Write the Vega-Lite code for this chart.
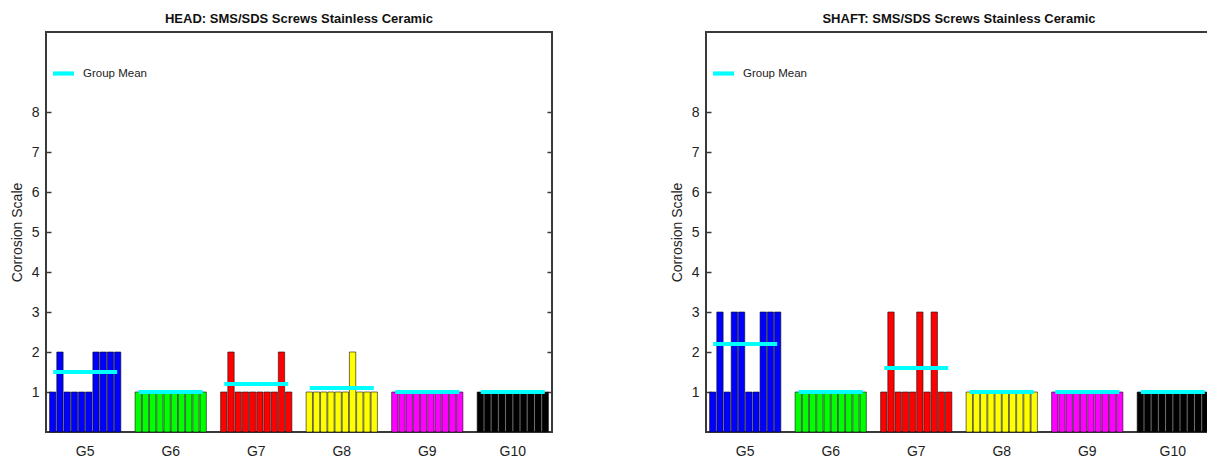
{
  "$schema": "https://vega.github.io/schema/vega-lite/v6.json",
  "background": "white",
  "padding": {"left": 9, "top": 12, "right": 0, "bottom": 0},
  "autosize": {"type": "pad"},
  "config": {
    "font": "Liberation Sans",
    "view": {"stroke": "#3a3a3a", "strokeWidth": 2},
    "axis": {"grid": false, "labelFont": "Liberation Sans", "titleFont": "Liberation Sans", "labelColor": "#222", "titleColor": "#222", "labelFontSize": 14, "titleFontSize": 14, "titleFontWeight": "normal", "domain": false, "tickColor": "#3a3a3a", "tickWidth": 1.5},
    "title": {"font": "Liberation Sans", "fontSize": 13, "fontWeight": "bold", "color": "#111", "offset": 6, "frame": "group", "anchor": "middle"},
    "legend": {"labelFont": "Liberation Sans", "labelFontSize": 11.5, "labelColor": "#222"}
  },
  "spacing": 115,
  "datasets": {
    "screws": [
      {"panel": "HEAD", "group": "G5", "idx": 1, "value": 1},
      {"panel": "HEAD", "group": "G5", "idx": 2, "value": 2},
      {"panel": "HEAD", "group": "G5", "idx": 3, "value": 1},
      {"panel": "HEAD", "group": "G5", "idx": 4, "value": 1},
      {"panel": "HEAD", "group": "G5", "idx": 5, "value": 1},
      {"panel": "HEAD", "group": "G5", "idx": 6, "value": 1},
      {"panel": "HEAD", "group": "G5", "idx": 7, "value": 2},
      {"panel": "HEAD", "group": "G5", "idx": 8, "value": 2},
      {"panel": "HEAD", "group": "G5", "idx": 9, "value": 2},
      {"panel": "HEAD", "group": "G5", "idx": 10, "value": 2},
      {"panel": "HEAD", "group": "G6", "idx": 1, "value": 1},
      {"panel": "HEAD", "group": "G6", "idx": 2, "value": 1},
      {"panel": "HEAD", "group": "G6", "idx": 3, "value": 1},
      {"panel": "HEAD", "group": "G6", "idx": 4, "value": 1},
      {"panel": "HEAD", "group": "G6", "idx": 5, "value": 1},
      {"panel": "HEAD", "group": "G6", "idx": 6, "value": 1},
      {"panel": "HEAD", "group": "G6", "idx": 7, "value": 1},
      {"panel": "HEAD", "group": "G6", "idx": 8, "value": 1},
      {"panel": "HEAD", "group": "G6", "idx": 9, "value": 1},
      {"panel": "HEAD", "group": "G6", "idx": 10, "value": 1},
      {"panel": "HEAD", "group": "G7", "idx": 1, "value": 1},
      {"panel": "HEAD", "group": "G7", "idx": 2, "value": 2},
      {"panel": "HEAD", "group": "G7", "idx": 3, "value": 1},
      {"panel": "HEAD", "group": "G7", "idx": 4, "value": 1},
      {"panel": "HEAD", "group": "G7", "idx": 5, "value": 1},
      {"panel": "HEAD", "group": "G7", "idx": 6, "value": 1},
      {"panel": "HEAD", "group": "G7", "idx": 7, "value": 1},
      {"panel": "HEAD", "group": "G7", "idx": 8, "value": 1},
      {"panel": "HEAD", "group": "G7", "idx": 9, "value": 2},
      {"panel": "HEAD", "group": "G7", "idx": 10, "value": 1},
      {"panel": "HEAD", "group": "G8", "idx": 1, "value": 1},
      {"panel": "HEAD", "group": "G8", "idx": 2, "value": 1},
      {"panel": "HEAD", "group": "G8", "idx": 3, "value": 1},
      {"panel": "HEAD", "group": "G8", "idx": 4, "value": 1},
      {"panel": "HEAD", "group": "G8", "idx": 5, "value": 1},
      {"panel": "HEAD", "group": "G8", "idx": 6, "value": 1},
      {"panel": "HEAD", "group": "G8", "idx": 7, "value": 2},
      {"panel": "HEAD", "group": "G8", "idx": 8, "value": 1},
      {"panel": "HEAD", "group": "G8", "idx": 9, "value": 1},
      {"panel": "HEAD", "group": "G8", "idx": 10, "value": 1},
      {"panel": "HEAD", "group": "G9", "idx": 1, "value": 1},
      {"panel": "HEAD", "group": "G9", "idx": 2, "value": 1},
      {"panel": "HEAD", "group": "G9", "idx": 3, "value": 1},
      {"panel": "HEAD", "group": "G9", "idx": 4, "value": 1},
      {"panel": "HEAD", "group": "G9", "idx": 5, "value": 1},
      {"panel": "HEAD", "group": "G9", "idx": 6, "value": 1},
      {"panel": "HEAD", "group": "G9", "idx": 7, "value": 1},
      {"panel": "HEAD", "group": "G9", "idx": 8, "value": 1},
      {"panel": "HEAD", "group": "G9", "idx": 9, "value": 1},
      {"panel": "HEAD", "group": "G9", "idx": 10, "value": 1},
      {"panel": "HEAD", "group": "G10", "idx": 1, "value": 1},
      {"panel": "HEAD", "group": "G10", "idx": 2, "value": 1},
      {"panel": "HEAD", "group": "G10", "idx": 3, "value": 1},
      {"panel": "HEAD", "group": "G10", "idx": 4, "value": 1},
      {"panel": "HEAD", "group": "G10", "idx": 5, "value": 1},
      {"panel": "HEAD", "group": "G10", "idx": 6, "value": 1},
      {"panel": "HEAD", "group": "G10", "idx": 7, "value": 1},
      {"panel": "HEAD", "group": "G10", "idx": 8, "value": 1},
      {"panel": "HEAD", "group": "G10", "idx": 9, "value": 1},
      {"panel": "HEAD", "group": "G10", "idx": 10, "value": 1},
      {"panel": "SHAFT", "group": "G5", "idx": 1, "value": 1},
      {"panel": "SHAFT", "group": "G5", "idx": 2, "value": 3},
      {"panel": "SHAFT", "group": "G5", "idx": 3, "value": 1},
      {"panel": "SHAFT", "group": "G5", "idx": 4, "value": 3},
      {"panel": "SHAFT", "group": "G5", "idx": 5, "value": 3},
      {"panel": "SHAFT", "group": "G5", "idx": 6, "value": 1},
      {"panel": "SHAFT", "group": "G5", "idx": 7, "value": 1},
      {"panel": "SHAFT", "group": "G5", "idx": 8, "value": 3},
      {"panel": "SHAFT", "group": "G5", "idx": 9, "value": 3},
      {"panel": "SHAFT", "group": "G5", "idx": 10, "value": 3},
      {"panel": "SHAFT", "group": "G6", "idx": 1, "value": 1},
      {"panel": "SHAFT", "group": "G6", "idx": 2, "value": 1},
      {"panel": "SHAFT", "group": "G6", "idx": 3, "value": 1},
      {"panel": "SHAFT", "group": "G6", "idx": 4, "value": 1},
      {"panel": "SHAFT", "group": "G6", "idx": 5, "value": 1},
      {"panel": "SHAFT", "group": "G6", "idx": 6, "value": 1},
      {"panel": "SHAFT", "group": "G6", "idx": 7, "value": 1},
      {"panel": "SHAFT", "group": "G6", "idx": 8, "value": 1},
      {"panel": "SHAFT", "group": "G6", "idx": 9, "value": 1},
      {"panel": "SHAFT", "group": "G6", "idx": 10, "value": 1},
      {"panel": "SHAFT", "group": "G7", "idx": 1, "value": 1},
      {"panel": "SHAFT", "group": "G7", "idx": 2, "value": 3},
      {"panel": "SHAFT", "group": "G7", "idx": 3, "value": 1},
      {"panel": "SHAFT", "group": "G7", "idx": 4, "value": 1},
      {"panel": "SHAFT", "group": "G7", "idx": 5, "value": 1},
      {"panel": "SHAFT", "group": "G7", "idx": 6, "value": 3},
      {"panel": "SHAFT", "group": "G7", "idx": 7, "value": 1},
      {"panel": "SHAFT", "group": "G7", "idx": 8, "value": 3},
      {"panel": "SHAFT", "group": "G7", "idx": 9, "value": 1},
      {"panel": "SHAFT", "group": "G7", "idx": 10, "value": 1},
      {"panel": "SHAFT", "group": "G8", "idx": 1, "value": 1},
      {"panel": "SHAFT", "group": "G8", "idx": 2, "value": 1},
      {"panel": "SHAFT", "group": "G8", "idx": 3, "value": 1},
      {"panel": "SHAFT", "group": "G8", "idx": 4, "value": 1},
      {"panel": "SHAFT", "group": "G8", "idx": 5, "value": 1},
      {"panel": "SHAFT", "group": "G8", "idx": 6, "value": 1},
      {"panel": "SHAFT", "group": "G8", "idx": 7, "value": 1},
      {"panel": "SHAFT", "group": "G8", "idx": 8, "value": 1},
      {"panel": "SHAFT", "group": "G8", "idx": 9, "value": 1},
      {"panel": "SHAFT", "group": "G8", "idx": 10, "value": 1},
      {"panel": "SHAFT", "group": "G9", "idx": 1, "value": 1},
      {"panel": "SHAFT", "group": "G9", "idx": 2, "value": 1},
      {"panel": "SHAFT", "group": "G9", "idx": 3, "value": 1},
      {"panel": "SHAFT", "group": "G9", "idx": 4, "value": 1},
      {"panel": "SHAFT", "group": "G9", "idx": 5, "value": 1},
      {"panel": "SHAFT", "group": "G9", "idx": 6, "value": 1},
      {"panel": "SHAFT", "group": "G9", "idx": 7, "value": 1},
      {"panel": "SHAFT", "group": "G9", "idx": 8, "value": 1},
      {"panel": "SHAFT", "group": "G9", "idx": 9, "value": 1},
      {"panel": "SHAFT", "group": "G9", "idx": 10, "value": 1},
      {"panel": "SHAFT", "group": "G10", "idx": 1, "value": 1},
      {"panel": "SHAFT", "group": "G10", "idx": 2, "value": 1},
      {"panel": "SHAFT", "group": "G10", "idx": 3, "value": 1},
      {"panel": "SHAFT", "group": "G10", "idx": 4, "value": 1},
      {"panel": "SHAFT", "group": "G10", "idx": 5, "value": 1},
      {"panel": "SHAFT", "group": "G10", "idx": 6, "value": 1},
      {"panel": "SHAFT", "group": "G10", "idx": 7, "value": 1},
      {"panel": "SHAFT", "group": "G10", "idx": 8, "value": 1},
      {"panel": "SHAFT", "group": "G10", "idx": 9, "value": 1},
      {"panel": "SHAFT", "group": "G10", "idx": 10, "value": 1}
    ]
  },
  "hconcat": [
    {
      "width": 506,
      "height": 400,
      "title": "HEAD: SMS/SDS Screws Stainless Ceramic",
      "data": {"name": "screws"},
      "transform": [{"filter": "datum.panel === 'HEAD'"}],
      "layer": [
        {
          "mark": {"type": "bar", "stroke": "#111", "strokeWidth": 0.6},
          "encoding": {
            "x": {"field": "group", "type": "nominal", "sort": ["G5", "G6", "G7", "G8", "G9", "G10"], "scale": {"paddingInner": 0.1667, "paddingOuter": 0.0417}, "axis": {"title": null, "labelAngle": 0, "ticks": false, "labelPadding": 12}},
            "xOffset": {"field": "idx", "type": "ordinal", "scale": {"paddingInner": 0.12}},
            "y": {"field": "value", "type": "quantitative", "scale": {"domain": [0, 10], "nice": false}, "axis": {"title": "Corrosion Scale", "values": [1, 2, 3, 4, 5, 6, 7, 8], "tickSize": -5, "labelPadding": 12, "titlePadding": 7}},
            "color": {"field": "group", "type": "nominal", "scale": {"domain": ["G5", "G6", "G7", "G8", "G9", "G10"], "range": ["#0000ff", "#00ff00", "#ff0000", "#ffff00", "#ff00ff", "#000000"]}, "legend": null}
          }
        },
        {
          "mark": {"type": "tick", "thickness": 4, "size": 64},
          "encoding": {
            "x": {"field": "group", "type": "nominal", "sort": ["G5", "G6", "G7", "G8", "G9", "G10"]},
            "y": {"aggregate": "mean", "field": "value", "type": "quantitative", "scale": {"domain": [0, 10], "nice": false}, "axis": {"orient": "right", "title": null, "labels": false, "values": [1, 2, 3, 4, 5, 6, 7, 8], "tickSize": -5}},
            "color": {"datum": "Group Mean", "type": "nominal", "scale": {"range": ["#00ffff"]}, "legend": {"title": null, "orient": "none", "legendX": 6, "legendY": 30, "symbolType": "M-1,-0.2H1V0.2H-1Z", "symbolSize": 441, "labelOffset": 8, "padding": 0}}
          }
        }
      ],
      "resolve": {"scale": {"color": "independent"}, "axis": {"y": "independent"}}
    },
    {
      "width": 506,
      "height": 400,
      "title": "SHAFT: SMS/SDS Screws Stainless Ceramic",
      "data": {"name": "screws"},
      "transform": [{"filter": "datum.panel === 'SHAFT'"}],
      "layer": [
        {
          "mark": {"type": "bar", "stroke": "#111", "strokeWidth": 0.6},
          "encoding": {
            "x": {"field": "group", "type": "nominal", "sort": ["G5", "G6", "G7", "G8", "G9", "G10"], "scale": {"paddingInner": 0.1667, "paddingOuter": 0.0417}, "axis": {"title": null, "labelAngle": 0, "ticks": false, "labelPadding": 12}},
            "xOffset": {"field": "idx", "type": "ordinal", "scale": {"paddingInner": 0.12}},
            "y": {"field": "value", "type": "quantitative", "scale": {"domain": [0, 10], "nice": false}, "axis": {"title": "Corrosion Scale", "values": [1, 2, 3, 4, 5, 6, 7, 8], "tickSize": -5, "labelPadding": 12, "titlePadding": 7}},
            "color": {"field": "group", "type": "nominal", "scale": {"domain": ["G5", "G6", "G7", "G8", "G9", "G10"], "range": ["#0000ff", "#00ff00", "#ff0000", "#ffff00", "#ff00ff", "#000000"]}, "legend": null}
          }
        },
        {
          "mark": {"type": "tick", "thickness": 4, "size": 64},
          "encoding": {
            "x": {"field": "group", "type": "nominal", "sort": ["G5", "G6", "G7", "G8", "G9", "G10"]},
            "y": {"aggregate": "mean", "field": "value", "type": "quantitative", "scale": {"domain": [0, 10], "nice": false}, "axis": {"orient": "right", "title": null, "labels": false, "values": [1, 2, 3, 4, 5, 6, 7, 8], "tickSize": -5}},
            "color": {"datum": "Group Mean", "type": "nominal", "scale": {"range": ["#00ffff"]}, "legend": {"title": null, "orient": "none", "legendX": 6, "legendY": 30, "symbolType": "M-1,-0.2H1V0.2H-1Z", "symbolSize": 441, "labelOffset": 8, "padding": 0}}
          }
        }
      ],
      "resolve": {"scale": {"color": "independent"}, "axis": {"y": "independent"}}
    }
  ]
}
